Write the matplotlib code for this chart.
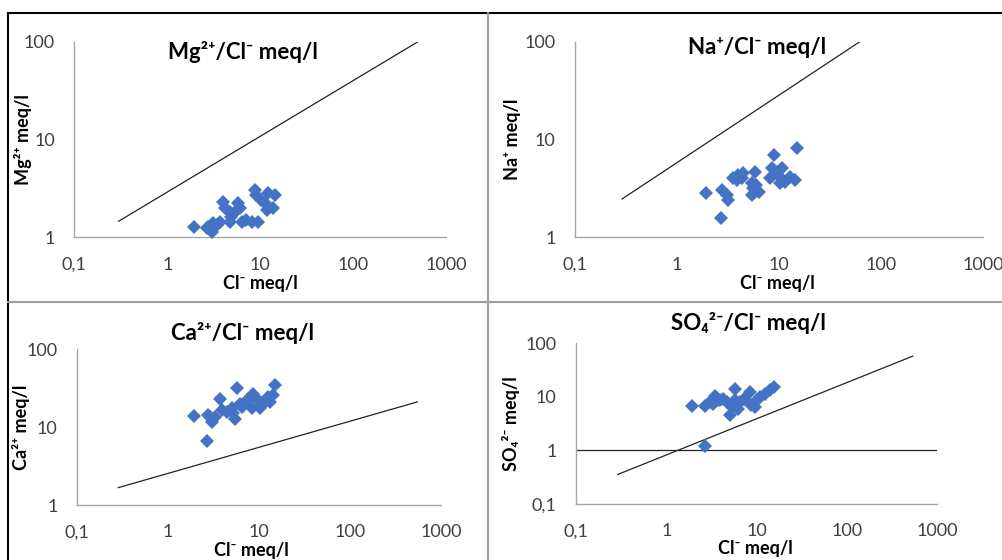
import matplotlib
matplotlib.use("Agg")
import matplotlib.pyplot as plt
from matplotlib.lines import Line2D

plt.rcParams['font.family'] = ['Lato', 'DejaVu Sans']

# Cl- vs Mg2+ (meq/l)
mg_cl = [1.94, 3.0, 2.75, 3.4, 3.7, 4.0, 4.2, 4.7, 4.9, 5.4, 5.8, 6.0, 6.3, 4.7,
         8.1, 9.5, 8.8, 9.1, 10.3, 11.2, 12.2, 14.4, 13.8, 11.8, 3.1, 2.65, 7.1]
mg = [1.28, 1.14, 1.28, 1.34, 1.45, 2.32, 1.99, 1.83, 1.63, 1.83, 2.23, 1.99, 1.45, 1.45,
      1.45, 1.45, 3.06, 2.72, 2.42, 2.23, 2.83, 2.72, 1.99, 1.91, 1.39, 1.24, 1.5]
mg_line_x = [0.30, 500]
mg_line_y = [1.46, 100]

# Cl- vs Na+ (meq/l)
na_cl = [1.92, 2.68, 2.74, 3.18, 3.07, 3.56, 4.0, 4.47, 3.85, 4.3, 5.8, 5.4, 5.6, 5.4,
         6.0, 6.3, 9.0, 8.5, 8.1, 9.5, 10.2, 11.5, 12.8, 14.4, 15.1, 10.6, 10.2]
na = [2.82, 1.59, 3.05, 2.41, 2.71, 4.0, 4.34, 4.5, 3.85, 4.0, 4.68, 3.57, 3.17, 2.71,
      3.43, 2.93, 6.95, 5.07, 4.0, 4.68, 4.17, 3.7, 4.17, 3.85, 8.13, 5.07, 3.55]
na_line_x = [0.29, 62]
na_line_y = [2.47, 100]

# Cl- vs Ca2+ (meq/l)
ca_cl = [1.93, 2.7, 2.77, 3.02, 3.72, 3.29, 3.89, 4.4, 5.0, 5.44, 5.78, 6.17, 6.45,
         5.2, 8.3, 8.65, 9.4, 10.7, 11.6, 12.6, 14.3, 15.0, 10.3, 13.2, 7.6, 2.9]
ca = [13.8, 6.67, 14.3, 11.7, 23.3, 13.5, 16.5, 15.7, 17.4, 12.9, 32.3, 20.1, 18.2,
      15.0, 17.4, 27.0, 23.3, 20.1, 21.1, 24.5, 25.7, 34.5, 17.4, 21.1, 23.3, 13.5]
ca_line_x = [0.284, 550]
ca_line_y = [1.67, 21.1]

# Cl- vs SO4 2- (meq/l)
so4_cl = [1.91, 2.68, 2.68, 3.05, 3.46, 3.77, 4.28, 4.67, 5.3, 5.07, 5.77, 5.77, 6.27,
          6.5, 8.45, 8.8, 10.0, 10.9, 12.4, 14.1, 15.7, 9.6, 3.9, 3.3, 7.3]
so4 = [6.7, 1.19, 6.7, 7.95, 10.6, 8.57, 9.2, 7.95, 6.43, 4.5, 14.2, 8.57, 6.0,
       7.95, 12.2, 6.9, 8.57, 9.87, 11.4, 13.2, 15.2, 6.43, 8.57, 7.5, 9.2]
so4_line_x = [0.29, 537]
so4_line_y = [0.356, 57.5]
so4_hline_x = [0.1, 1000]
so4_hline_y = [1, 1]

x_ticks = [0.1, 1, 10, 100, 1000]
x_tick_labels = ['0,1', '1', '10', '100', '1000']
y_ticks = [1, 10, 100]
y_tick_labels = ['1', '10', '100']
so4_y_ticks = [0.1, 1, 10, 100]
so4_y_tick_labels = ['0,1', '1', '10', '100']

BLUE = '#4472C4'
W, H = 1003, 560

fig = plt.figure(figsize=(W / 100, H / 100), dpi=100)


def px_axes(x0, x1, y_top, y_bot):
    """Axes placed by pixel box (left, right, top, bottom)."""
    return fig.add_axes([x0 / W, 1 - y_bot / H, (x1 - x0) / W, (y_bot - y_top) / H])


def style(ax, ylim, yt, ytl):
    ax.set_xscale('log')
    ax.set_yscale('log')
    ax.set_xlim(0.1, 1000)
    ax.set_ylim(*ylim)
    ax.set_xticks(x_ticks, x_tick_labels)
    ax.set_yticks(yt, ytl)
    ax.minorticks_off()
    for s in ['top', 'right']:
        ax.spines[s].set_visible(False)
    for s in ['left', 'bottom']:
        ax.spines[s].set_color('#a6a6a6')
        ax.spines[s].set_linewidth(1.0)
    ax.tick_params(length=0, labelsize=13, colors='#404040')
    ax.tick_params(axis='x', pad=14)
    ax.tick_params(axis='y', pad=14)


def scatter(ax, x, y):
    ax.plot(x, y, linestyle='none', marker='D', ms=7, color=BLUE,
            markeredgewidth=0, zorder=3, clip_on=False)


def labels(ax, title, tpos, ylabel, ypos, xpos):
    ax.text(tpos[0], tpos[1], title, transform=ax.transAxes, ha='center', va='center',
            fontsize=16, fontweight='bold', color='black')
    ax.set_ylabel(ylabel, fontsize=13, fontweight='bold', color='black', va='center')
    ax.yaxis.set_label_coords(ypos, 0.5)
    ax.set_xlabel('Cl⁻ meq/l', fontsize=13, fontweight='bold', color='black', va='center')
    ax.xaxis.set_label_coords(xpos[0], xpos[1])


# top-left: Mg
ax1 = px_axes(74.3, 446, 41.7, 237.3)
style(ax1, (1, 100), y_ticks, y_tick_labels)
ax1.plot(mg_line_x, mg_line_y, color='#222222', lw=0.9)
scatter(ax1, mg_cl, mg)
labels(ax1, 'Mg²⁺/Cl⁻ meq/l', (0.454, 0.947), 'Mg²⁺ meq/l', -0.138, (0.5, -0.234))

# top-right: Na
ax2 = px_axes(575, 983, 41.7, 237.3)
style(ax2, (1, 100), y_ticks, y_tick_labels)
ax2.plot(na_line_x, na_line_y, color='#222222', lw=0.9)
scatter(ax2, na_cl, na)
labels(ax2, 'Na⁺/Cl⁻ meq/l', (0.446, 0.968), 'Na⁺ meq/l', -0.152, (0.497, -0.234))

# bottom-left: Ca
ax3 = px_axes(77, 441, 349.3, 505)
style(ax3, (1, 100), y_ticks, y_tick_labels)
ax3.plot(ca_line_x, ca_line_y, color='#222222', lw=0.9)
scatter(ax3, ca_cl, ca)
labels(ax3, 'Ca²⁺/Cl⁻ meq/l', (0.456, 1.105), 'Ca²⁺ meq/l', -0.155, (0.48, -0.29))

# bottom-right: SO4
ax4 = px_axes(576, 937, 343.3, 504)
style(ax4, (0.1, 100), so4_y_ticks, so4_y_tick_labels)
ax4.plot(so4_line_x, so4_line_y, color='#222222', lw=0.9)
ax4.plot(so4_hline_x, so4_hline_y, color='#222222', lw=0.9)
scatter(ax4, so4_cl, so4)
labels(ax4, 'SO₄²⁻/Cl⁻ meq/l', (0.478, 1.126), 'SO₄²⁻ meq/l', -0.179, (0.497, -0.28))

# frame and panel dividers
fig.add_artist(Line2D([8 / W, 1], [1 - 12.5 / H] * 2, transform=fig.transFigure,
                      color='black', lw=1.5))
fig.add_artist(Line2D([8 / W] * 2, [0, 1 - 12.5 / H], transform=fig.transFigure,
                      color='black', lw=1.5))
fig.add_artist(Line2D([488 / W] * 2, [0, 1 - 13 / H], transform=fig.transFigure,
                      color='#a0a0a0', lw=1.5))
fig.add_artist(Line2D([8 / W, 1], [1 - 302 / H] * 2, transform=fig.transFigure,
                      color='#a0a0a0', lw=1.5))

fig.savefig('out.png', dpi=100)
